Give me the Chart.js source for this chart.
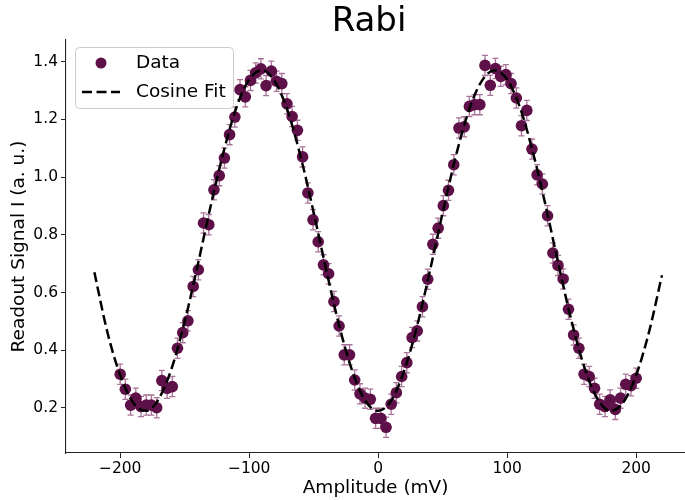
<!DOCTYPE html>
<html>
<head>
<meta charset="utf-8">
<script src="https://cdn.jsdelivr.net/npm/chart.js@4.4.1/dist/chart.umd.min.js"></script>
<style>
  html, body { margin: 0; padding: 0; background: #fff; overflow: hidden; width: 685px; height: 500px; }
  canvas { display: block; }
</style>
</head>
<body>
<canvas id="rabi" width="691" height="500"></canvas>
<script>
// measured points, mV
const amplitude = [
  -200.0, -196.0, -191.9, -187.9, -183.8, -179.8, -175.8, -171.7, -167.7, -163.6,
  -159.6, -155.6, -151.5, -147.5, -143.4, -139.4, -135.4, -131.3, -127.3, -123.2,
  -119.2, -115.2, -111.1, -107.1, -103.0, -99.0, -95.0, -90.9, -86.9, -82.8,
  -78.8, -74.7, -70.7, -66.7, -62.6, -58.6, -54.5, -50.5, -46.5, -42.4,
  -38.4, -34.3, -30.3, -26.3, -22.2, -18.2, -14.1, -10.1, -6.1, -2.0,
  2.0, 6.1, 10.1, 14.1, 18.2, 22.2, 26.3, 30.3, 34.3, 38.4,
  42.4, 46.5, 50.5, 54.5, 58.6, 62.6, 66.7, 70.7, 74.7, 78.8,
  82.8, 86.9, 90.9, 95.0, 99.0, 103.0, 107.1, 111.1, 115.2, 119.2,
  123.2, 127.3, 131.3, 135.4, 139.4, 143.4, 147.5, 151.5, 155.6, 159.6,
  163.6, 167.7, 171.7, 175.8, 179.8, 183.8, 187.9, 191.9, 196.0, 200.0
];
const readout = [
  0.317, 0.265, 0.210, 0.234, 0.205, 0.210, 0.210, 0.201, 0.295, 0.268,
  0.274, 0.407, 0.461, 0.502, 0.621, 0.679, 0.841, 0.835, 0.956, 1.005,
  1.066, 1.147, 1.208, 1.303, 1.278, 1.335, 1.361, 1.375, 1.317, 1.367,
  1.332, 1.324, 1.254, 1.210, 1.162, 1.070, 0.945, 0.852, 0.776, 0.696,
  0.665, 0.569, 0.484, 0.384, 0.384, 0.297, 0.249, 0.234, 0.230, 0.164,
  0.164, 0.133, 0.213, 0.253, 0.309, 0.357, 0.444, 0.467, 0.551, 0.646,
  0.767, 0.823, 0.901, 0.954, 1.043, 1.170, 1.174, 1.245, 1.251, 1.251,
  1.387, 1.318, 1.376, 1.349, 1.355, 1.324, 1.274, 1.178, 1.231, 1.097,
  1.008, 0.976, 0.866, 0.737, 0.694, 0.647, 0.542, 0.453, 0.407, 0.317,
  0.309, 0.268, 0.213, 0.205, 0.228, 0.195, 0.234, 0.282, 0.277, 0.303
];
const readoutError = 0.035;

// cosine fit curve
const fitAmplitude = [
  -220, -210, -200, -190, -180, -170, -160, -150, -140, -130, -120, -110,
  -100, -90, -80, -70, -60, -50, -40, -30, -20, -10, 0,
  10, 20, 30, 40, 50, 60, 70, 80, 90, 100, 110, 120, 130, 140, 150, 160,
  170, 180, 190, 200, 210, 220
];
const fitSignal = [
  0.670, 0.464, 0.314, 0.219, 0.190, 0.232, 0.339, 0.499, 0.693, 0.897, 1.085, 1.240,
  1.338, 1.370, 1.331, 1.227, 1.069, 0.877, 0.673, 0.481, 0.327, 0.225, 0.190,
  0.225, 0.327, 0.481, 0.673, 0.877, 1.069, 1.227, 1.331, 1.370, 1.338, 1.240, 1.085, 0.897, 0.693, 0.499, 0.339,
  0.232, 0.190, 0.219, 0.314, 0.464, 0.660
];

const xTicks = [-200, -100, 0, 100, 200];
const yTicks = [0.2, 0.4, 0.6, 0.8, 1.0, 1.2, 1.4];

const FONT = "'DejaVu Sans', sans-serif";
const DOT = '#5e1148';
const BAR = 'rgba(140, 70, 120, 0.75)';
const AXIS = '#262626';

const points = amplitude.map((a, i) => ({ x: a, y: readout[i] }));
const fitPoints = fitAmplitude.map((a, i) => ({ x: a, y: fitSignal[i] }));

const minus = v => String(v).replace('-', '\u2212');

// vertical error bars with caps, under the markers
const errorBars = {
  id: 'errorBars',
  beforeDatasetsDraw(chart) {
    const { ctx, scales: { x, y } } = chart;
    ctx.save();
    ctx.strokeStyle = BAR;
    ctx.lineWidth = 1.3;
    points.forEach(p => {
      const px = x.getPixelForValue(p.x);
      const top = y.getPixelForValue(p.y + readoutError);
      const bot = y.getPixelForValue(p.y - readoutError);
      ctx.beginPath();
      ctx.moveTo(px, top); ctx.lineTo(px, bot);
      ctx.moveTo(px - 3, top); ctx.lineTo(px + 3, top);
      ctx.moveTo(px - 3, bot); ctx.lineTo(px + 3, bot);
      ctx.stroke();
    });
    ctx.restore();
  }
};

// title and legend box
const decorations = {
  id: 'decorations',
  afterDraw(chart) {
    const { ctx } = chart;
    ctx.save();
    ctx.fillStyle = '#000';
    ctx.font = `34px ${FONT}`;
    ctx.textAlign = 'center';
    ctx.textBaseline = 'middle';
    ctx.fillText('Rabi', 369, 22);

    const bx = 75.5, by = 47.5, bw = 158, bh = 61, r = 4;
    ctx.beginPath();
    ctx.roundRect(bx, by, bw, bh, r);
    ctx.fillStyle = 'rgba(255,255,255,0.8)';
    ctx.fill();
    ctx.strokeStyle = '#cccccc';
    ctx.lineWidth = 1;
    ctx.stroke();

    ctx.fillStyle = DOT;
    ctx.beginPath();
    ctx.arc(101, 63, 5.5, 0, Math.PI * 2);
    ctx.fill();

    ctx.strokeStyle = '#000';
    ctx.lineWidth = 2.5;
    ctx.setLineDash([10, 4.5]);
    ctx.beginPath();
    ctx.moveTo(82, 92); ctx.lineTo(120, 92);
    ctx.stroke();
    ctx.setLineDash([]);

    ctx.fillStyle = '#000';
    ctx.font = `18.5px ${FONT}`;
    ctx.textAlign = 'left';
    ctx.fillText('Data', 136, 63);
    ctx.fillText('Cosine Fit', 136, 92);
    ctx.restore();
  }
};

new Chart(document.getElementById('rabi'), {
  type: 'scatter',
  data: {
    datasets: [
      {
        type: 'line',
        label: 'Cosine Fit',
        data: fitPoints,
        borderColor: '#000',
        borderWidth: 2.5,
        borderDash: [10, 4.5],
        pointRadius: 0,
        cubicInterpolationMode: 'monotone',
        fill: false,
        order: 0
      },
      {
        label: 'Data',
        data: points,
        backgroundColor: DOT,
        borderColor: DOT,
        borderWidth: 0,
        pointRadius: 5.8,
        order: 1
      }
    ]
  },
  options: {
    responsive: false,
    animation: false,
    devicePixelRatio: 1,
    layout: { padding: { top: 40, right: 0, left: 0, bottom: 0 } },
    plugins: { legend: { display: false }, tooltip: { enabled: false } },
    scales: {
      x: {
        type: 'linear',
        min: -242,
        max: 238,
        afterBuildTicks: axis => { axis.ticks = xTicks.map(v => ({ value: v })); },
        afterFit: axis => { axis.height = 47; },
        border: { display: true, color: AXIS, width: 1.1 },
        grid: { drawOnChartArea: false, drawTicks: true, tickLength: 5, color: AXIS },
        ticks: {
          color: '#000',
          font: { family: FONT, size: 15.5 },
          padding: 2,
          maxRotation: 0,
          callback: v => minus(v)
        },
        title: {
          display: true,
          text: 'Amplitude (mV)',
          color: '#000',
          font: { family: FONT, size: 18.5 },
          padding: { top: 0, bottom: 1 }
        }
      },
      y: {
        type: 'linear',
        min: 0.044,
        max: 1.475,
        afterBuildTicks: axis => { axis.ticks = yTicks.map(v => ({ value: v })); },
        afterFit: axis => { axis.width = 66; },
        border: { display: true, color: AXIS, width: 1.1 },
        grid: { drawOnChartArea: false, drawTicks: true, tickLength: 5, color: AXIS },
        ticks: {
          color: '#000',
          font: { family: FONT, size: 15.5 },
          padding: 3,
          callback: v => v.toFixed(1)
        },
        title: {
          display: true,
          text: 'Readout Signal I (a. u.)',
          color: '#000',
          font: { family: FONT, size: 18.5 },
          padding: { top: 8, bottom: 0 }
        }
      }
    }
  },
  plugins: [errorBars, decorations]
});
</script>
</body>
</html>
